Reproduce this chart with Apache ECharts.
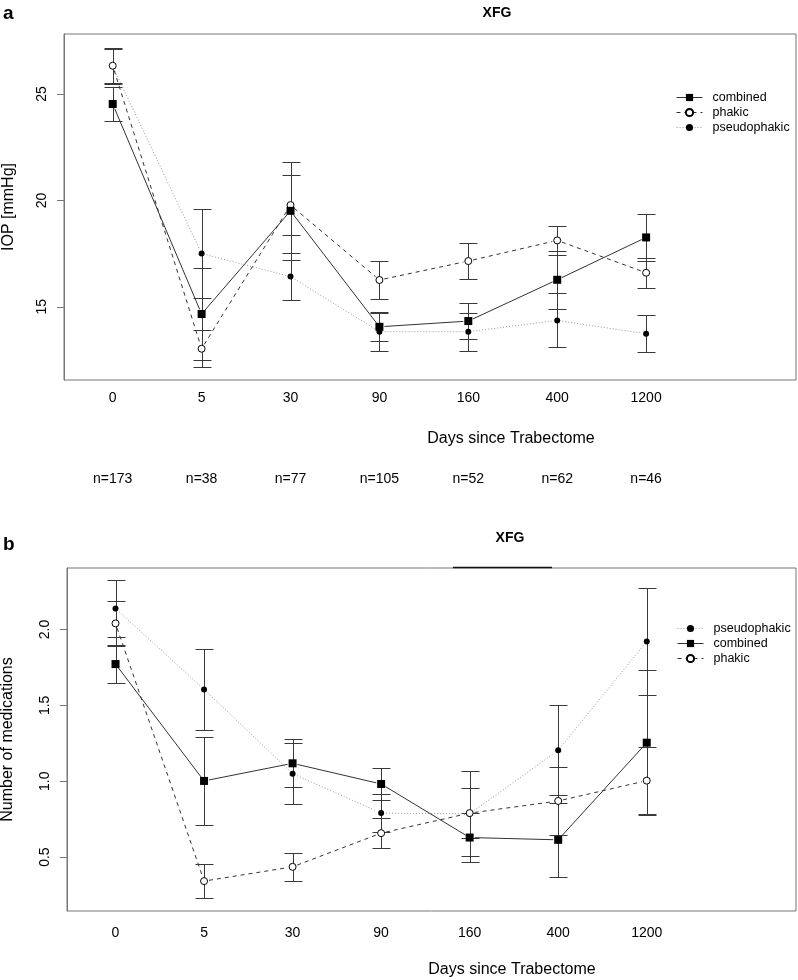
<!DOCTYPE html>
<html><head><meta charset="utf-8">
<script src="https://cdn.jsdelivr.net/npm/echarts@6/dist/echarts.min.js"></script>
<style>html,body{margin:0;padding:0;background:#fff}#c{width:798px;height:980px}</style>
</head><body><div id="c"></div>
<script>
const days = ['0','5','30','90','160','400','1200'];
const nLabels = ['n=173','n=38','n=77','n=105','n=52','n=62','n=46'];
const iopTicks = [15,20,25];
const medTicks = [0.5,1.0,1.5,2.0];
// panel a: IOP (mean and half-width of error bar)
const iopCombined    = [24.53,14.66,19.51,14.06,14.33,16.27,18.26];
const iopCombinedErr = [0.79,2.18,2.29,0.65,0.86,1.37,1.10];
const iopPhakic      = [26.33,13.03,19.78,16.26,17.15,18.12,16.60];
const iopPhakicErr   = [0.82,0.87,1.41,0.88,0.83,0.68,0.70];
const iopPseudo      = [26.30,17.50,16.42,13.83,13.83,14.36,13.73];
const iopPseudoErr   = [0.82,2.08,1.10,0.93,0.89,1.27,0.87];
// panel b: number of medications
const medCombined    = [1.772,1.002,1.118,0.982,0.629,0.614,1.254];
const medCombinedErr = [0.127,0.288,0.158,0.103,0.160,0.242,0.476];
const medPhakic      = [2.040,0.342,0.436,0.658,0.790,0.870,1.004];
const medPhakicErr   = [0.146,0.110,0.092,0.097,0.164,0.223,0.220];
const medPseudo      = [2.138,1.605,1.050,0.790,0.785,1.204,1.921];
const medPseudoErr   = [0.185,0.267,0.200,0.124,0.280,0.297,0.353];

const FF = '"Liberation Sans", Arial, Helvetica, sans-serif';
const chart = echarts.init(document.getElementById('c'), null, {renderer:'canvas'});

const lineLook = {
  combined:     {color:'#333', type:'solid', dash:null},
  phakic:       {color:'#333', type:[4,4], dash:[4,4]},
  pseudophakic: {color:'#999', type:[1,2], dash:[1,2]}
};
const markLook = {
  combined:     {symbol:'rect', symbolSize:8, itemStyle:{color:'#000'}},
  phakic:       {symbol:'circle', symbolSize:7, itemStyle:{color:'#fff', borderColor:'#000', borderWidth:1}},
  pseudophakic: {symbol:'circle', symbolSize:6, itemStyle:{color:'#000'}}
};

function xIdx(gi){ return gi===0 ? 0 : 2; }

function errRender(params, api){
  const x = api.value(0), lo = api.value(1), hi = api.value(2);
  const a = api.coord([x, lo]), b = api.coord([x, hi]);
  const cx = Math.round(a[0]) + 0.5, ya = Math.round(a[1]) + 0.5, yb = Math.round(b[1]) + 0.5;
  const w = 9;
  const st = {stroke:'#3a3a3a', lineWidth:1};
  return {type:'group', children:[
    {type:'line', shape:{x1:cx,y1:ya,x2:cx,y2:yb}, style:st},
    {type:'line', shape:{x1:cx-w,y1:ya,x2:cx+w,y2:ya}, style:st},
    {type:'line', shape:{x1:cx-w,y1:yb,x2:cx+w,y2:yb}, style:st}
  ]};
}
function errSeries(m, e, gi){
  return {type:'custom', xAxisIndex:xIdx(gi), yAxisIndex:gi, data:m.map((v,i)=>[i, v-e[i], v+e[i]]),
    encode:{x:0, y:[1,2]}, renderItem:errRender, silent:true, z:1};
}
// connecting lines with small gaps at each point (R type = "b")
function segSeries(name, m, gi){
  const look = lineLook[name];
  const data = [];
  for (let i = 0; i < m.length - 1; i++) data.push([i, m[i], i+1, m[i+1]]);
  return {type:'custom', xAxisIndex:xIdx(gi), yAxisIndex:gi, data:data, encode:{x:[0,2], y:[1,3]}, silent:true, z:2,
    renderItem:function(params, api){
      const p = api.coord([api.value(0), api.value(1)]);
      const q = api.coord([api.value(2), api.value(3)]);
      const dx = q[0]-p[0], dy = q[1]-p[1], L = Math.sqrt(dx*dx+dy*dy), g = 5;
      if (L <= 2*g) return null;
      const ux = dx/L, uy = dy/L;
      return {type:'line', shape:{x1:p[0]+ux*g, y1:p[1]+uy*g, x2:q[0]-ux*g, y2:q[1]-uy*g},
        style:{stroke:look.color, lineWidth:1, lineDash:look.dash}};
    }};
}
function markSeries(name, m, gi){
  const s = JSON.parse(JSON.stringify(markLook[name]));
  return Object.assign({type:'line', name:name, xAxisIndex:xIdx(gi), yAxisIndex:gi, data:m.map((v,i)=>[i,v]),
    showSymbol:true, silent:true, z:3, emphasis:{disabled:true},
    lineStyle:{color:lineLook[name].color, width:1, type:lineLook[name].type, opacity:0}}, s);
}
function legendItem(name){
  const l = lineLook[name];
  return {name:name, lineStyle:{color:l.color, width:1, type:l.type, opacity:1}};
}

const xBase = (gi, margin, labels) => ({type:'value', gridIndex:gi, position:'bottom', min:-0.548, max:7.686,
  axisLine:{show:false, onZero:false}, axisTick:{show:false}, splitLine:{show:false},
  axisLabel:{customValues:[0,1,2,3,4,5,6], formatter:v=>labels[Math.round(v)], fontSize:14, color:'#000', margin:margin, fontFamily:FF}});

const yBase = (gi, min, max, ticks, name, gap, fmt) => ({type:'value', gridIndex:gi, position:'left', min:min, max:max,
  axisLine:{show:true, onZero:false, lineStyle:{color:'#777', width:1}}, splitLine:{show:false},
  axisTick:{show:true, length:7, lineStyle:{color:'#777', width:1}, customValues:ticks},
  axisLabel:{customValues:ticks, rotate:90, margin:15, fontSize:14, color:'#000', fontFamily:FF, formatter:fmt},
  name:name, nameLocation:'middle', nameRotate:90, nameGap:gap,
  nameTextStyle:{fontSize:16, color:'#000', fontFamily:FF}});

const legendBase = {orient:'vertical', itemWidth:26, itemHeight:9, itemGap:2, selectedMode:false,
  textStyle:{fontSize:12.5, color:'#000', fontFamily:FF, padding:[0,0,0,5]}};

const option = {
  animation:false,
  backgroundColor:'#fff',
  grid:[
    {left:64, top:34, width:732, height:346, show:true, borderColor:'#777', borderWidth:1, containLabel:false, outerBoundsMode:'none'},
    {left:67, top:568, width:729, height:343, show:true, borderColor:'#777', borderWidth:1, containLabel:false, outerBoundsMode:'none'}
  ],
  xAxis:[
    xBase(0, 11, days),
    xBase(0, 92, nLabels),
    xBase(1, 15, days)
  ],
  yAxis:[
    yBase(0, 11.56, 27.82, iopTicks, 'IOP [mmHg]', 47, v=>String(v)),
    yBase(1, 0.145, 2.405, medTicks, 'Number of medications', 51, v=>v.toFixed(1))
  ],
  legend:[
    Object.assign({}, legendBase, {data:['combined','phakic','pseudophakic'].map(legendItem), left:671, top:86}),
    Object.assign({}, legendBase, {data:['pseudophakic','combined','phakic'].map(legendItem), left:672, top:617})
  ],
  graphic:[
    {type:'text', x:3, y:14, style:{text:'a', font:'bold 19px '+FF, fill:'#000', textVerticalAlign:'middle'}},
    {type:'text', x:497, y:13, style:{text:'XFG', font:'bold 14px '+FF, fill:'#000', textAlign:'center', textVerticalAlign:'middle'}},
    {type:'text', x:511, y:439, style:{text:'Days since Trabectome', font:'16px '+FF, fill:'#000', textAlign:'center', textVerticalAlign:'middle'}},
    {type:'text', x:3, y:545, style:{text:'b', font:'bold 19px '+FF, fill:'#000', textVerticalAlign:'middle'}},
    {type:'text', x:510, y:538, style:{text:'XFG', font:'bold 14px '+FF, fill:'#000', textAlign:'center', textVerticalAlign:'middle'}},
    {type:'text', x:512, y:970, style:{text:'Days since Trabectome', font:'16px '+FF, fill:'#000', textAlign:'center', textVerticalAlign:'middle'}},
    {type:'line', shape:{x1:453, y1:567.5, x2:552, y2:567.5}, style:{stroke:'#111', lineWidth:1.5}, z:10}
  ],
  series:[
    errSeries(iopPseudo, iopPseudoErr, 0),
    errSeries(iopPhakic, iopPhakicErr, 0),
    errSeries(iopCombined, iopCombinedErr, 0),
    segSeries('pseudophakic', iopPseudo, 0),
    segSeries('phakic', iopPhakic, 0),
    segSeries('combined', iopCombined, 0),
    markSeries('pseudophakic', iopPseudo, 0),
    markSeries('phakic', iopPhakic, 0),
    markSeries('combined', iopCombined, 0),
    errSeries(medPseudo, medPseudoErr, 1),
    errSeries(medPhakic, medPhakicErr, 1),
    errSeries(medCombined, medCombinedErr, 1),
    segSeries('pseudophakic', medPseudo, 1),
    segSeries('phakic', medPhakic, 1),
    segSeries('combined', medCombined, 1),
    markSeries('pseudophakic', medPseudo, 1),
    markSeries('phakic', medPhakic, 1),
    markSeries('combined', medCombined, 1)
  ]
};
chart.setOption(option);
</script>
</body></html>
